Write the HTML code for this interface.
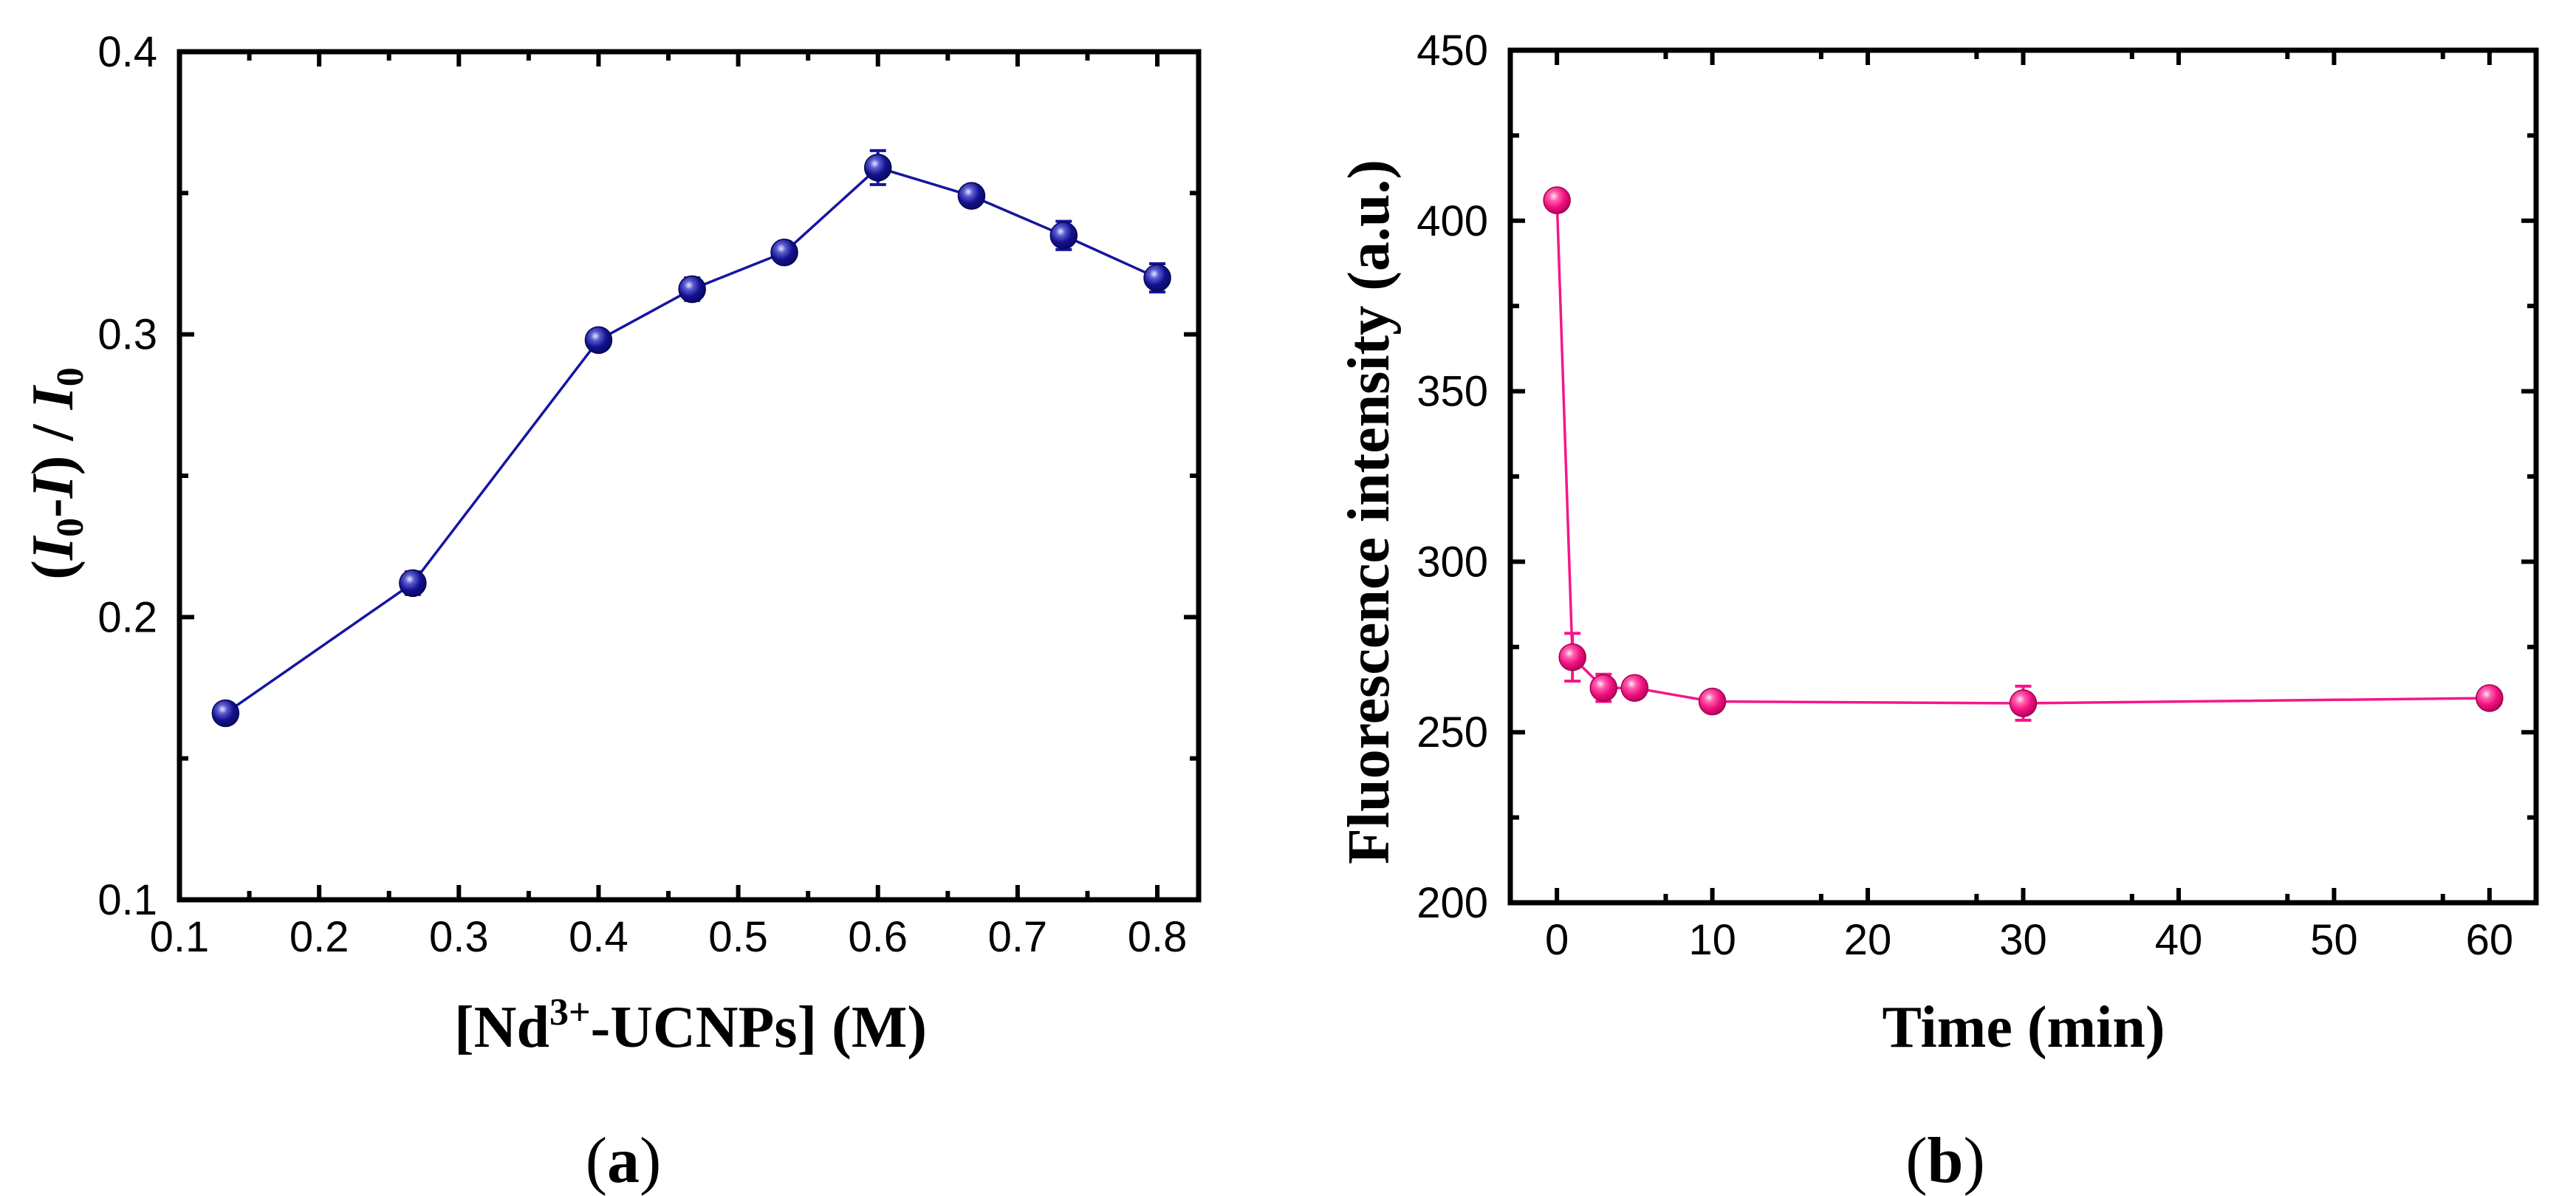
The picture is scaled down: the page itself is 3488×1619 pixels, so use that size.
<!DOCTYPE html>
<html><head><meta charset="utf-8">
<style>
html,body{margin:0;padding:0;background:#fff;}
svg{display:block;}
.tick{font-family:"Liberation Sans",Arial,sans-serif;font-size:58px;fill:#000;}
.title{font-family:"Liberation Serif","Times New Roman",serif;font-weight:bold;font-size:80px;fill:#000;}
.cap{font-family:"Liberation Serif","Times New Roman",serif;font-size:88px;fill:#000;}
</style></head>
<body>
<svg id="fig" width="3488" height="1619" viewBox="0 0 3488 1619" xmlns="http://www.w3.org/2000/svg">
<defs>
<radialGradient id="gb" cx="0.38" cy="0.35" r="0.7">
<stop offset="0" stop-color="#e8e8ff"/><stop offset="0.25" stop-color="#5a5ad0"/><stop offset="0.6" stop-color="#12128f"/><stop offset="1" stop-color="#080860"/></radialGradient>
<radialGradient id="gp" cx="0.38" cy="0.35" r="0.7">
<stop offset="0" stop-color="#ffe8f4"/><stop offset="0.25" stop-color="#ff5fae"/><stop offset="0.6" stop-color="#f0107e"/><stop offset="1" stop-color="#b00058"/></radialGradient>
</defs>
<g id="panelA"></g>
<g id="panelB"></g>
<text class="title" x="935" y="1417" text-anchor="middle">[Nd<tspan font-size="52" dy="-30">3+</tspan><tspan dy="30">-UCNPs] (M)</tspan></text>
<text class="title" transform="translate(98,641) rotate(-90)" text-anchor="middle">(<tspan font-style="italic">I</tspan><tspan font-size="52" dy="14">0</tspan><tspan dy="-14">-</tspan><tspan font-style="italic">I</tspan>) / <tspan font-style="italic">I</tspan><tspan font-size="52" dy="14">0</tspan></text>
<text class="title" x="2740" y="1417" text-anchor="middle">Time (min)</text>
<text class="title" transform="translate(1880,693) rotate(-90)" text-anchor="middle">Fluorescence intensity (a.u.)</text>
<text class="cap" x="844" y="1600" text-anchor="middle">(<tspan font-weight="bold">a</tspan>)</text>
<text class="cap" x="2634" y="1600" text-anchor="middle">(<tspan font-weight="bold">b</tspan>)</text>
</svg>
<script>
// Panel A data
const aX = [0.133, 0.267, 0.4, 0.467, 0.533, 0.6, 0.667, 0.733, 0.8];
const aY = [0.166, 0.212, 0.298, 0.316, 0.329, 0.359, 0.349, 0.335, 0.320];
const aErr = [0.002, 0.004, 0.002, 0.004, 0.002, 0.006, 0.003, 0.005, 0.005];
const aXTicks = ["0.1","0.2","0.3","0.4","0.5","0.6","0.7","0.8"];
const aYTicks = ["0.1","0.2","0.3","0.4"];
// Panel B data
const bX = [0, 1, 3, 5, 10, 30, 60];
const bY = [406, 272, 263, 263, 259, 258.5, 260];
const bErr = [1, 7, 4, 1.5, 1.5, 5, 3];
const bXTicks = ["0","10","20","30","40","50","60"];
const bYTicks = ["200","250","300","350","400","450"];

const NS = "http://www.w3.org/2000/svg";
function mk(parent, tag, attrs){const e=document.createElementNS(NS,tag);for(const k in attrs)e.setAttribute(k,attrs[k]);parent.appendChild(e);return e;}

function drawPanel(g, o){
  const sx=v=>o.L+(v-o.x0)/(o.x1-o.x0)*(o.R-o.L);
  const sy=v=>o.B-(v-o.y0)/(o.y1-o.y0)*(o.B-o.T);
  o.xTicks.forEach(t=>{
    const v=parseFloat(t);
    for(const [yy,d] of [[o.B,-1],[o.T,1]]){
      const l=mk(g,'line',{x1:sx(v),x2:sx(v),y1:yy,y2:yy+d*20,stroke:'#000','stroke-width':6});
      
      
    }
    const tx=mk(g,'text',{x:sx(v),y:o.B+70,'text-anchor':'middle',class:'tick'});
    tx.textContent=t;
    
    
  });
  for(let v=o.x0;v<=o.x1+1e-9;v+=o.xMinor){
    const r=Math.round(v/o.xMinor);
    if(r%2===0) continue;
    for(const [yy,d] of [[o.B,-1],[o.T,1]]){
      const l=mk(g,'line',{x1:sx(v),x2:sx(v),y1:yy,y2:yy+d*12,stroke:'#000','stroke-width':6});
      
      
    }
  }
  o.yTicks.forEach(t=>{
    const v=parseFloat(t);
    for(const [xx,d] of [[o.L,1],[o.R,-1]]){
      const l=mk(g,'line',{x1:xx,x2:xx+d*20,y1:sy(v),y2:sy(v),stroke:'#000','stroke-width':6});
      
      
    }
    const tx=mk(g,'text',{x:o.L-30,y:sy(v)+20,'text-anchor':'end',class:'tick'});
    tx.textContent=t;
    
    
  });
  const ys=o.yTicks.map(parseFloat);
  for(let i=0;i<ys.length-1;i++){
    const v=(ys[i]+ys[i+1])/2;
    for(const [xx,d] of [[o.L,1],[o.R,-1]]){
      const l=mk(g,'line',{x1:xx,x2:xx+d*12,y1:sy(v),y2:sy(v),stroke:'#000','stroke-width':6});
      
      
    }
  }
  const f=mk(g,'rect',{x:o.L,y:o.T,width:o.R-o.L,height:o.B-o.T,fill:'none',stroke:'#000','stroke-width':7});
  
  
  const pts=o.xs.map((x,i)=>sx(x)+','+sy(o.ys[i])).join(' ');
  const pl=mk(g,'polyline',{points:pts,fill:'none',stroke:o.color,'stroke-width':3.5});
  
  
  o.xs.forEach((x,i)=>{
    const cx=sx(x), yt=sy(o.ys[i]+o.err[i]), yb=sy(o.ys[i]-o.err[i]);
    const eb=mk(g,'path',{d:`M${cx-11},${yt}H${cx+11}M${cx},${yt}V${yb}M${cx-11},${yb}H${cx+11}`,stroke:o.color,'stroke-width':4,fill:'none'});
    
    
    const c=mk(g,'circle',{cx:cx,cy:sy(o.ys[i]),r:18,fill:o.grad,stroke:o.dark,'stroke-width':1.5});
    
    
  });
}
drawPanel(document.getElementById('panelA'),{L:243,R:1623,T:70,B:1218,x0:0.1,x1:0.8+56/1893,y0:0.1,y1:0.4,
  xTicks:aXTicks,yTicks:aYTicks,xMinor:0.05,xs:aX,ys:aY,err:aErr,color:'#1515a0',dark:'#060650',grad:'url(#gb)'});
drawPanel(document.getElementById('panelB'),{L:2045,R:3434,T:68,B:1222,x0:-3,x1:63,y0:200,y1:450,
  xTicks:bXTicks,yTicks:bYTicks,xMinor:5,xs:bX,ys:bY,err:bErr,color:'#f5168a',dark:'#a00050',grad:'url(#gp)'});
</script>
</body></html>
